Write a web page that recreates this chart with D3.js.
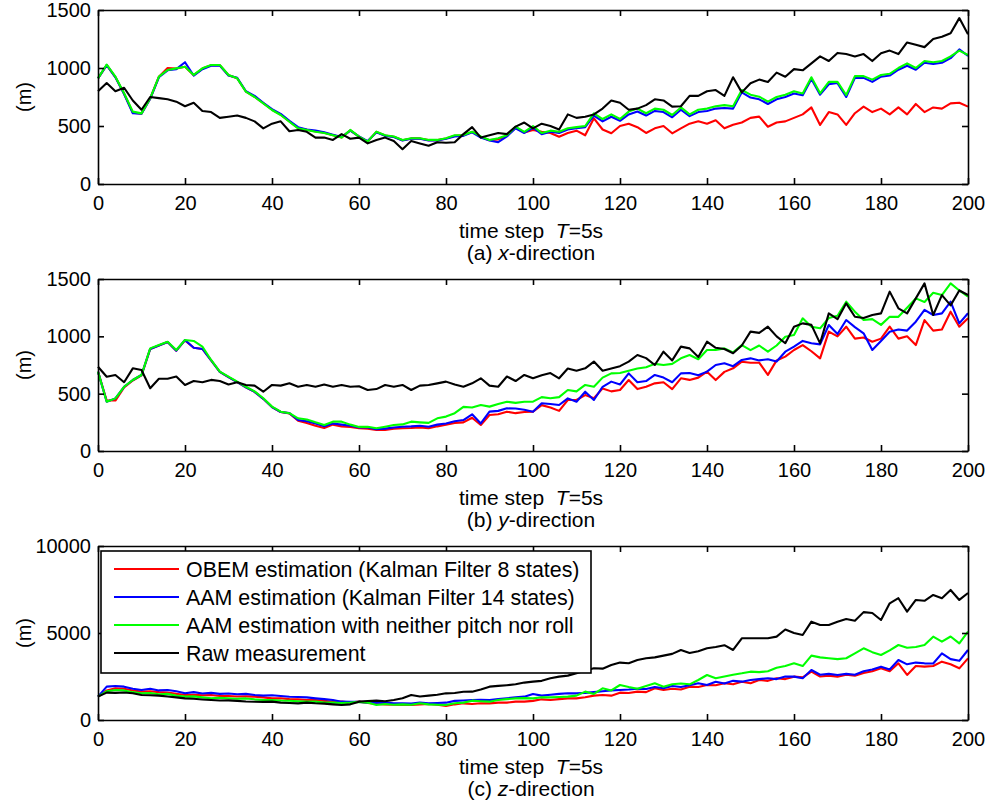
<!DOCTYPE html>
<html>
<head>
<meta charset="utf-8">
<script src="https://cdn.jsdelivr.net/npm/d3@7"></script>
<style>
  html, body { margin: 0; padding: 0; background: #ffffff; }
  svg { display: block; font-family: "Liberation Sans", Arial, Helvetica, sans-serif; }
</style>
</head>
<body>
<svg id="chart" width="986" height="802"></svg>
<script>
// ---------------- data (sampled every 2 time steps) ----------------
const steps = d3.range(0, 201, 2);
const xTicks = [0, 20, 40, 60, 80, 100, 120, 140, 160, 180, 200];
const yTicksXY = [0, 500, 1000, 1500];
const yTicksZ = [0, 5000, 10000];
const seriesNames = [
  "OBEM estimation (Kalman Filter 8 states)",
  "AAM estimation (Kalman Filter 14 states)",
  "AAM estimation with neither pitch nor roll",
  "Raw measurement"
];
const seriesColors = ["#ff0000", "#0000ff", "#00ff00", "#000000"];
const panelLabels = ["x", "y", "z"];

// (a) x-direction
const xOBEM = [911,1025,922,778,615,607,737,925,1000,995,
  1010,938,995,1024,1024,938,912,797,752,697,
  640,598,540,482,467,452,442,421,402,462,
  409,366,449,418,408,377,393,393,378,378,
  393,416,419,449,406,378,385,415,485,445,
  466,450,440,408,440,460,420,566,470,437,
  500,520,490,440,480,500,437,480,520,540,
  520,550,480,510,530,570,581,494,530,540,
  570,600,660,509,620,600,509,610,667,620,
  650,600,660,600,690,620,660,650,695,700,
  667];
const xAAM = [911,1025,920,775,610,605,735,920,980,990,
  1050,935,990,1020,1020,935,915,800,760,700,
  645,605,545,490,470,460,445,425,405,460,
  410,370,445,415,405,375,390,390,375,375,
  390,410,415,445,400,375,360,410,480,440,
  485,430,450,440,470,480,490,590,540,580,
  545,600,625,590,630,620,575,640,585,620,
  630,650,655,650,790,745,730,690,730,750,
  780,765,905,770,860,870,750,915,915,880,
  925,935,985,1020,985,1045,1035,1045,1085,1160,
  1105];
const xAAMnp = [911,1030,925,782,624,609,739,925,983,997,
  1010,940,997,1026,1026,940,911,796,750,695,
  638,595,537,480,466,451,440,420,400,466,
  408,365,451,420,410,379,395,395,380,380,
  395,420,422,451,410,380,394,420,494,450,
  500,440,460,450,480,490,500,609,560,600,
  560,624,650,610,650,640,595,660,600,640,
  650,670,680,670,810,770,753,710,750,770,
  800,780,920,782,880,880,767,930,930,900,
  940,950,1000,1040,1000,1060,1050,1060,1100,1150,
  1112];
const xRaw = [800,870,800,830,720,640,750,740,730,710,
  670,700,630,620,570,580,590,570,540,480,
  520,540,455,465,450,400,400,380,430,390,
  400,350,380,400,370,300,370,350,330,360,
  355,360,430,490,400,420,440,430,495,530,
  480,520,500,470,600,570,580,600,650,720,
  700,640,650,680,730,720,667,670,760,760,
  800,810,760,920,790,868,900,880,960,925,
  990,980,1040,1100,1060,1130,1120,1100,1120,1060,
  1127,1150,1120,1220,1200,1180,1250,1270,1300,1430,
  1290];

// (b) y-direction
const yOBEM = [692,440,440,555,615,660,890,920,950,875,
  965,900,890,790,690,645,600,556,515,455,
  383,340,328,265,245,220,200,230,215,210,
  198,195,183,183,195,198,200,205,198,215,
  230,245,250,290,227,314,320,343,330,340,
  343,400,380,350,445,445,488,460,546,520,
  532,619,540,560,590,600,540,634,620,640,
  692,619,690,721,779,770,770,664,790,823,
  881,924,870,808,1041,1000,1084,980,990,953,
  980,1084,980,1000,924,1142,1050,1060,1215,1084,
  1157];
const yAAM = [692,430,459,560,619,663,890,920,950,875,
  968,900,890,790,690,645,600,556,515,455,
  383,340,330,270,260,240,215,240,230,220,
  205,205,190,195,205,212,215,220,212,230,
  240,260,270,320,240,343,350,372,370,360,
  343,416,410,401,459,430,517,445,560,605,
  580,677,600,610,663,640,600,677,680,660,
  692,750,765,740,794,808,790,800,780,866,
  910,960,940,930,1099,1020,1142,1080,1026,881,
  960,1040,1060,1050,1128,1230,1186,1200,1302,1113,
  1201];
const yAAMnp = [692,430,459,560,619,663,895,924,953,881,
  968,960,910,794,692,648,605,560,520,460,
  387,343,330,285,275,250,227,256,256,230,
  210,212,198,212,227,232,256,250,245,285,
  300,330,385,380,401,387,410,430,420,430,
  430,470,460,470,532,520,576,560,640,677,
  680,700,720,730,760,750,760,808,837,800,
  881,881,895,860,924,880,920,866,920,997,
  1012,1157,1084,1070,1160,1180,1302,1215,1142,1150,
  1100,1170,1170,1250,1331,1300,1380,1360,1462,1400,
  1346];
const yRaw = [735,648,663,600,721,706,547,630,630,650,
  576,610,600,620,610,580,600,576,570,517,
  576,570,590,560,576,560,580,560,575,560,
  565,532,540,576,560,576,532,570,576,590,
  605,580,560,590,634,570,560,650,610,663,
  634,660,680,634,720,700,721,780,700,720,
  740,779,837,810,750,866,790,910,895,820,
  953,900,890,852,920,1041,1030,1084,1000,940,
  1084,1113,1100,939,1200,1150,1288,1171,1160,1186,
  1200,1390,1244,1200,1331,1462,1186,1360,1270,1400,
  1360];

// (c) z-direction
const zOBEM = [1341,1700,1820,1800,1700,1629,1650,1600,1580,1500,
  1437,1450,1420,1437,1380,1380,1350,1360,1341,1300,
  1245,1250,1200,1188,1150,1150,1100,1050,1054,1000,
  1054,980,920,900,880,862,870,900,920,880,
  805,900,958,920,960,958,1000,1000,1054,1054,
  1100,1188,1150,1200,1245,1245,1303,1400,1437,1400,
  1571,1550,1629,1600,1820,1724,1800,1750,1916,1900,
  2012,2000,2108,2050,2200,2108,2300,2250,2400,2350,
  2491,2450,2778,2500,2550,2491,2600,2550,2700,2800,
  2970,2800,3257,2587,3100,3066,3100,3353,3200,2970,
  3545];
const zAAM = [1341,1916,1950,1916,1800,1724,1800,1700,1724,1650,
  1533,1600,1520,1560,1500,1520,1480,1500,1437,1400,
  1420,1380,1340,1320,1300,1245,1200,1150,1054,1050,
  1040,1000,1010,996,960,958,950,1000,960,980,
  996,1100,1120,1150,1160,1150,1200,1250,1300,1341,
  1494,1400,1450,1500,1533,1533,1560,1600,1650,1700,
  1724,1750,1800,1780,1900,1820,1950,1900,2000,2108,
  2012,2200,2100,2250,2203,2299,2350,2400,2350,2500,
  2491,2400,2874,2600,2650,2587,2650,2600,2800,2900,
  3066,2900,3449,3200,3300,3257,3250,3832,3500,3400,
  4024];
const zAAMnp = [1341,1650,1724,1700,1600,1533,1550,1480,1500,1400,
  1341,1360,1300,1250,1280,1250,1220,1240,1188,1150,
  1150,1120,1110,1080,1060,1054,1000,1000,980,1000,
  1040,1000,862,920,880,900,880,958,900,880,
  862,960,1000,1111,1080,1054,1150,1200,1245,1260,
  1245,1303,1300,1320,1341,1400,1630,1500,1820,1700,
  2012,1900,1800,1950,2108,1916,2050,2100,2050,2300,
  2587,2400,2500,2600,2682,2778,2750,2800,3000,3100,
  3257,3100,3700,3600,3550,3500,3550,3832,4119,3900,
  3736,4000,4311,4150,4200,4311,4790,4500,4800,4400,
  5077];
const zRaw = [1341,1571,1560,1580,1540,1437,1420,1400,1350,1300,
  1245,1220,1180,1150,1120,1130,1100,1060,1050,1040,
  1054,1000,980,958,1000,960,940,900,862,900,
  1054,1090,1111,1080,1150,1245,1437,1350,1400,1450,
  1533,1550,1620,1629,1750,1916,1960,2000,2050,2150,
  2203,2250,2400,2491,2550,2682,2850,2970,2950,3161,
  3300,3260,3449,3545,3600,3700,3800,4024,3850,3950,
  4119,4200,4300,4024,4694,4694,4700,4700,4790,5200,
  5000,4886,5650,5461,5460,5650,5800,5700,6200,6150,
  5748,6706,7000,6227,6900,6850,7185,7000,7472,6900,
  7300];

// ---------------- layout ----------------
const svg = d3.select("#chart");
svg.append("rect").attr("width", 986).attr("height", 802).attr("fill", "#ffffff");

const plotLeft = 98, plotRight = 968;
const panels = [
  { top: 10,  bottom: 184, yMax: 1500,  yTicks: yTicksXY, series: [xOBEM, xAAM, xAAMnp, xRaw], letter: "a" },
  { top: 279, bottom: 451, yMax: 1500,  yTicks: yTicksXY, series: [yOBEM, yAAM, yAAMnp, yRaw], letter: "b" },
  { top: 546, bottom: 720, yMax: 10000, yTicks: yTicksZ,  series: [zOBEM, zAAM, zAAMnp, zRaw], letter: "c" }
];

const x = d3.scaleLinear().domain([0, 200]).range([plotLeft, plotRight]);
const tickLen = 6;
const axisStroke = 1.6;

panels.forEach((p, pi) => {
  const y = d3.scaleLinear().domain([0, p.yMax]).range([p.bottom, p.top]);
  const g = svg.append("g");

  // data lines
  const line = d3.line().x((d, i) => x(steps[i])).y(d => y(d));
  p.series.forEach((vals, si) => {
    g.append("path")
      .datum(vals)
      .attr("fill", "none")
      .attr("stroke", seriesColors[si])
      .attr("stroke-width", 2.1)
      .attr("stroke-linejoin", "round")
      .attr("d", line);
  });

  // axes (ticks pointing inward on all four sides)
  const styleAxis = sel => {
    sel.selectAll("path.domain").attr("stroke", "#000").attr("stroke-width", axisStroke);
    sel.selectAll(".tick line").attr("stroke", "#000").attr("stroke-width", axisStroke);
    sel.selectAll(".tick text").attr("fill", "#000").attr("font-size", 20)
      .attr("font-family", '"Liberation Sans", Arial, Helvetica, sans-serif');
  };

  g.append("g").attr("transform", `translate(0,${p.bottom})`)
    .call(d3.axisBottom(x).tickValues(xTicks).tickFormat(d3.format("d"))
      .tickSizeInner(-tickLen).tickSizeOuter(0).tickPadding(12))
    .call(styleAxis);
  g.append("g").attr("transform", `translate(0,${p.top})`)
    .call(d3.axisTop(x).tickValues(xTicks).tickFormat("")
      .tickSizeInner(-tickLen).tickSizeOuter(0))
    .call(styleAxis);
  g.append("g").attr("transform", `translate(${plotLeft},0)`)
    .call(d3.axisLeft(y).tickValues(p.yTicks).tickFormat(d3.format("d"))
      .tickSizeInner(-tickLen).tickSizeOuter(0).tickPadding(7))
    .call(styleAxis);
  g.append("g").attr("transform", `translate(${plotRight},0)`)
    .call(d3.axisRight(y).tickValues(p.yTicks).tickFormat("")
      .tickSizeInner(-tickLen).tickSizeOuter(0))
    .call(styleAxis);

  // y label
  svg.append("text")
    .attr("transform", `translate(24,${(p.top + p.bottom) / 2}) rotate(-90)`)
    .attr("text-anchor", "middle")
    .attr("dominant-baseline", "central")
    .attr("font-size", 20)
    .text("(m)");

  // x label
  const cx = (plotLeft + plotRight) / 2 - 2;
  const t1 = svg.append("text")
    .attr("x", cx).attr("y", p.bottom + 54)
    .attr("text-anchor", "middle").attr("font-size", 21);
  t1.append("tspan").text("time step\u00a0 ");
  t1.append("tspan").attr("font-style", "italic").text("T");
  t1.append("tspan").text("=5s");

  const t2 = svg.append("text")
    .attr("x", cx).attr("y", p.bottom + 76)
    .attr("text-anchor", "middle").attr("font-size", 21);
  t2.append("tspan").text(`(${p.letter}) `);
  t2.append("tspan").attr("font-style", "italic").text(panelLabels[pi]);
  t2.append("tspan").text("-direction");

  // legend (only in the z panel)
  if (pi === 2) {
    const lg = svg.append("g");
    lg.append("rect")
      .attr("x", 101).attr("y", 551).attr("width", 490).attr("height", 122)
      .attr("fill", "#ffffff").attr("stroke", "#000").attr("stroke-width", axisStroke);
    seriesNames.forEach((name, i) => {
      const yy = 569 + i * 28;
      lg.append("line").attr("x1", 114).attr("x2", 179).attr("y1", yy).attr("y2", yy)
        .attr("stroke", seriesColors[i]).attr("stroke-width", 2);
      lg.append("text").attr("x", 186).attr("y", yy + 1)
        .attr("dominant-baseline", "central").attr("font-size", 21.4).text(name);
    });
  }
});
</script>
</body>
</html>
